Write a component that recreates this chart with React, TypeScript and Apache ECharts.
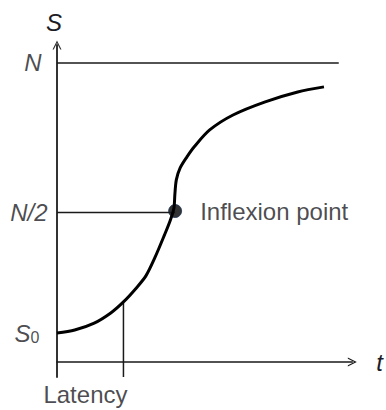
import React, { useEffect, useRef } from "react";
import * as echarts from "echarts";

// Logistic growth curve (t in 0..10, S in units of N)
const curveT = [0, 0.6, 1.26, 1.82, 2.25, 2.68, 3.01, 3.31, 3.64, 3.84, 3.96, 3.99, 4.04, 4.17, 4.4, 4.64, 5.17, 5.96, 7.05, 8.15, 9.04];
const curveS = [0.097, 0.107, 0.13, 0.164, 0.201, 0.247, 0.288, 0.348, 0.425, 0.475, 0.515, 0.559, 0.609, 0.649, 0.686, 0.719, 0.776, 0.826, 0.87, 0.903, 0.92];

// Horizontal reference levels and their labels
const levelValues = [1, 0.5, 0.097];
const levelLabels = ["N", "N/2", "S0"];
const levelLabelGaps = [15, 9, 17];

// N line extends to this t; N/2 line ends at the inflexion point
const carryingLineEnd = 9.54;
const inflexionT = 4.0;
const inflexionS = 0.505;
const inflexionLabel = "Inflexion point";

// Latency marker
const latencyT = 2.25;
const latencyS = 0.201;
const latencyLabel = "Latency";

const yAxisName = "S";
const xAxisName = "t";

const FONT = "Liberation Sans, Arial, sans-serif";
const INK = "#1c1c24";
const FS = 24;

export default function App() {
  const ref = useRef<HTMLDivElement>(null);
  useEffect(() => {
    if (!ref.current) return;
    const chart = echarts.init(ref.current, null, { renderer: "svg" });
    const yMin = -0.05;
    const chevron = "path://M0,10 L5,0 L10,10 L8.6,10 L5,2.8 L1.4,10 Z";
    const lineStyle = { color: "#1a1a1a", width: 1.5 };
    const option: any = {
      animation: false,
      grid: { left: 57, right: 27, top: 45, bottom: 33 },
      xAxis: {
        type: "value",
        min: 0,
        max: 10,
        name: xAxisName,
        nameLocation: "end",
        nameGap: 24,
        nameTextStyle: { fontFamily: FONT, fontSize: FS, fontStyle: "italic", color: INK, verticalAlign: "middle" },
        axisLine: { show: true, onZero: true, symbol: ["none", chevron], symbolSize: [10, 9], lineStyle: { color: "#1a1a1a", width: 1.5 } },
        axisTick: { show: false },
        axisLabel: { show: false },
        splitLine: { show: false },
      },
      yAxis: {
        type: "value",
        min: yMin,
        max: 1.06,
        name: yAxisName,
        nameLocation: "end",
        nameGap: 11,
        nameTextStyle: { fontFamily: FONT, fontSize: FS, fontStyle: "italic", color: INK, align: "center", padding: [0, 6, 0, 0] },
        axisLine: { show: true, onZero: true, symbol: ["none", chevron], symbolSize: [10, 9], lineStyle: { color: "#333", width: 2 } },
        axisTick: { show: false },
        axisLabel: { show: false },
        splitLine: { show: false },
      },
      series: [
        {
          type: "line",
          data: [[0, levelValues[0]], [carryingLineEnd, levelValues[0]]],
          symbol: "none",
          silent: true,
          lineStyle,
        },
        {
          type: "line",
          data: [[0, levelValues[1]], [inflexionT, levelValues[1]]],
          symbol: "none",
          silent: true,
          lineStyle,
        },
        {
          type: "line",
          data: [[latencyT, yMin], [latencyT, latencyS]],
          symbol: "none",
          silent: true,
          lineStyle,
        },
        {
          type: "line",
          data: curveT.map((t, i) => [t, curveS[i]]),
          smooth: 0.3,
          symbol: "none",
          silent: true,
          lineStyle: { color: "#000", width: 3 },
        },
        {
          type: "scatter",
          data: [[inflexionT, inflexionS]],
          symbolSize: 13,
          silent: true,
          itemStyle: { color: "#000", borderColor: "#1d3557", borderWidth: 1 },
          label: {
            show: true,
            position: "right",
            distance: 18,
            formatter: inflexionLabel,
            fontFamily: FONT,
            fontSize: FS,
            color: INK,
          },
        },
        {
          type: "scatter",
          data: [[latencyT, yMin]],
          symbolSize: 1,
          silent: true,
          itemStyle: { color: "transparent" },
          label: {
            show: true,
            position: "bottom",
            distance: 5,
            lineHeight: 24,
            offset: [-38, 0],
            formatter: latencyLabel,
            fontFamily: FONT,
            fontSize: FS,
            color: INK,
          },
        },
        {
          type: "scatter",
          symbolSize: 1,
          silent: true,
          itemStyle: { color: "transparent" },
          data: levelValues.map((v, i) => ({
            value: [0, v],
            label: {
              distance: levelLabelGaps[i],
              formatter: levelLabels[i] === "S0" ? "{i|S}{sub|0}" : "{i|" + levelLabels[i] + "}",
            },
          })),
          label: {
            show: true,
            position: "left",
            fontFamily: FONT,
            fontSize: FS,
            color: INK,
            rich: {
              i: { fontFamily: FONT, fontSize: FS, fontStyle: "italic", color: INK },
              sub: { fontFamily: FONT, fontSize: 16, color: INK, verticalAlign: "bottom", padding: [8, 0, 0, 0] },
            },
          },
        },
      ],
    };
    chart.setOption(option);
    return () => chart.dispose();
  }, []);
  return <div ref={ref} style={{ width: 386, height: 410, position: "absolute", left: 0, top: 0 }} />;
}
